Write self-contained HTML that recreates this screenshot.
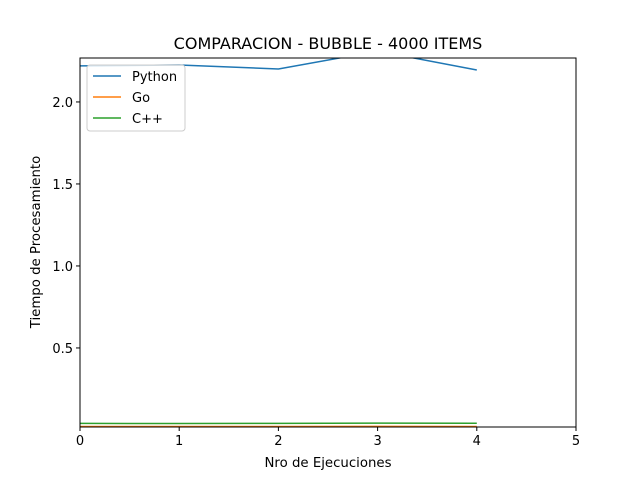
<!DOCTYPE html>
<html><head><meta charset="utf-8"><style>
body{margin:0;background:#fff}
text{font-family:"DejaVu Sans","Liberation Sans",sans-serif;fill:#000}
</style></head><body>
<svg id="chart" width="640" height="480" xmlns="http://www.w3.org/2000/svg">
<rect width="640" height="480" fill="#fff"/>
<text x="328" y="49" font-size="16" text-anchor="middle">COMPARACION - BUBBLE - 4000 ITEMS</text>
<text x="328" y="467" font-size="13.3" text-anchor="middle">Nro de Ejecuciones</text>
<text x="40" y="242" font-size="13.3" text-anchor="middle" transform="rotate(-90 40 242)">Tiempo de Procesamiento</text>
<g id="ticks"></g>
<defs><clipPath id="clip"><rect x="80" y="58" width="496" height="369"/></clipPath></defs>
<g id="lines" clip-path="url(#clip)"></g>
<rect x="80" y="58" width="496" height="369" fill="none" stroke="#000" stroke-width="1"/>
<g>
<rect x="87" y="65" width="98" height="66" rx="3" fill="#fff" fill-opacity="0.8" stroke="#ccc"/>
<g><line x1="93" y1="76" x2="121" y2="76" stroke="#1f77b4" stroke-width="1.5"/><text x="132" y="81" font-size="13">Python</text></g>
<g><line x1="93" y1="97" x2="121" y2="97" stroke="#ff7f0e" stroke-width="1.5"/><text x="132" y="102" font-size="13">Go</text></g>
<g><line x1="93" y1="118" x2="121" y2="118" stroke="#2ca02c" stroke-width="1.5"/><text x="132" y="123" font-size="13">C++</text></g>
</g>
</svg>
<script>
const runs=[0,1,2,3,4];
const python=[2.22,2.225,2.201,2.31,2.195];
const go=[0.021,0.021,0.021,0.022,0.021];
const cpp=[0.04,0.039,0.04,0.042,0.041];
const xTicks=[0,1,2,3,4,5];
const yTicks=[0.5,1.0,1.5,2.0];
const yTickLabels=["0.5","1.0","1.5","2.0"];
const NS="http://www.w3.org/2000/svg";
const X0=80,X1=576,Y0=427,Y1=58,xmin=0,xmax=5,ymin=0.018,ymax=2.268;
function sx(v){return X0+(v-xmin)/(xmax-xmin)*(X1-X0);}
function sy(v){return Y0-(v-ymin)/(ymax-ymin)*(Y0-Y1);}
const tg=document.getElementById('ticks');
function mk(tag,attrs,parent){const e=document.createElementNS(NS,tag);for(const k in attrs)e.setAttribute(k,attrs[k]);parent.appendChild(e);return e;}
xTicks.forEach(t=>{
  const g=mk('g',{},tg);
  
  
  mk('line',{x1:sx(t),x2:sx(t),y1:Y0,y2:Y0+4,stroke:'#000'},g);
  const tx=mk('text',{x:sx(t),y:Y0+18,'font-size':13,'text-anchor':'middle'},g);tx.textContent=t;
});
yTicks.forEach((t,i)=>{
  const g=mk('g',{},tg);
  
  
  mk('line',{x1:X0-4,x2:X0,y1:sy(t),y2:sy(t),stroke:'#000'},g);
  const tx=mk('text',{x:X0-7,y:sy(t)+5,'font-size':13,'text-anchor':'end'},g);tx.textContent=yTickLabels[i];
});
const lg=document.getElementById('lines');
[[python,'#1f77b4','python-line'],[go,'#ff7f0e','go-line'],[cpp,'#2ca02c','cpp-line']].forEach(([d,c,n])=>{
  const p=mk('polyline',{points:d.map((v,i)=>sx(runs[i])+','+sy(v)).join(' '),fill:'none',stroke:c,'stroke-width':1.5},lg);
  
  
});
</script>
</body></html>
